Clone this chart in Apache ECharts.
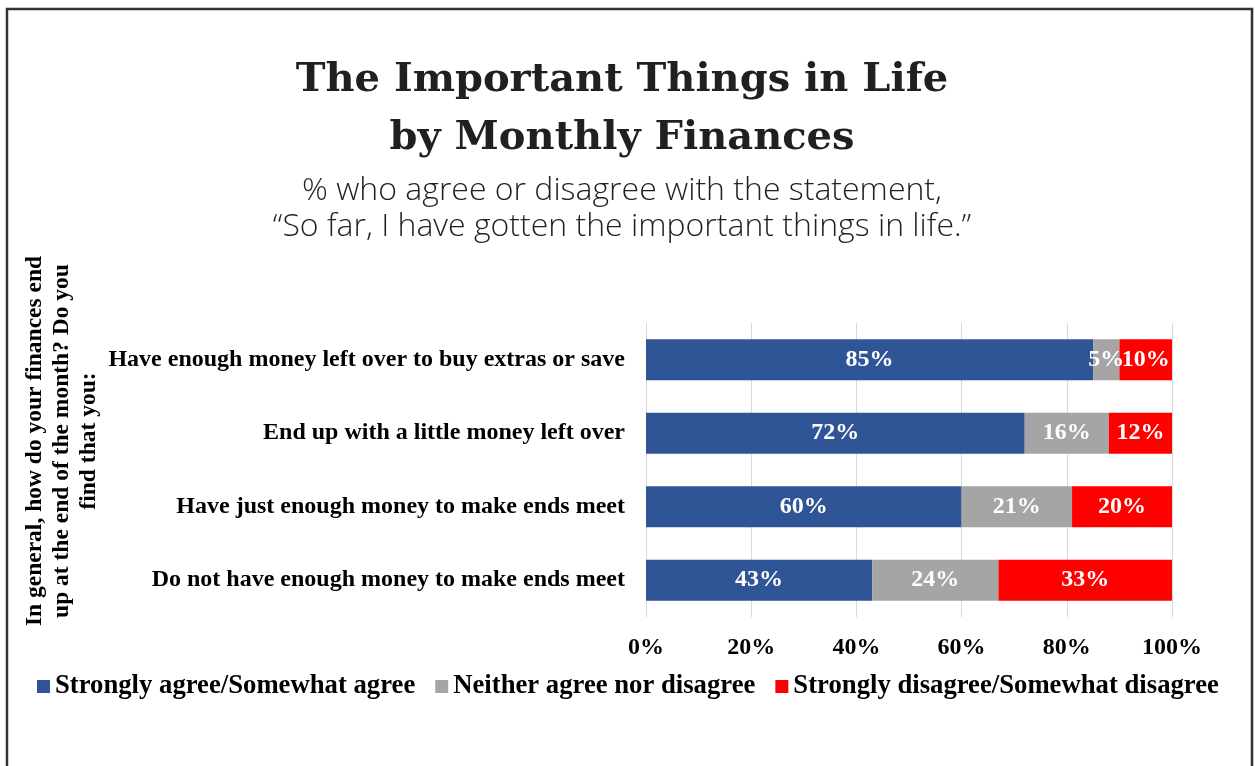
<!DOCTYPE html>
<html>
<head>
<meta charset="utf-8">
<style>
  html, body { margin: 0; padding: 0; background: #ffffff; }
  #chart { width: 1255px; height: 766px; }
</style>
<script src="https://cdn.jsdelivr.net/npm/echarts@6/dist/echarts.min.js"></script>
</head>
<body>
<div id="chart"></div>
<script>
// Survey groups (monthly finances), top to bottom
const categories = [
  'Have enough money left over to buy extras or save',
  'End up with a little money left over',
  'Have just enough money to make ends meet',
  'Do not have enough money to make ends meet'
];
// Share of each group, in percent
const agreeValues = [85, 72, 60, 43];
const neitherValues = [5, 16, 21, 24];
const disagreeValues = [10, 12, 20, 33];
const seriesNames = [
  'Strongly agree/Somewhat agree',
  'Neither agree nor disagree',
  'Strongly disagree/Somewhat disagree'
];
const xTicks = [0, 20, 40, 60, 80, 100];

const serif = '"Liberation Serif", "Times New Roman", serif';
const colors = ['#2F5597', '#A5A5A5', '#FF0000'];

const chart = echarts.init(document.getElementById('chart'), null, { renderer: 'canvas' });

function barSeries(name, values, color) {
  return {
    name: name,
    type: 'bar',
    stack: 'total',
    barWidth: '56%',
    data: values,
    itemStyle: { color: color },
    label: {
      show: true,
      position: 'inside',
      formatter: '{c}%',
      color: '#ffffff',
      fontFamily: serif,
      fontWeight: 'bold',
      fontSize: 24
    },
    emphasis: { disabled: true }
  };
}

function centeredText(text, y, font) {
  return {
    type: 'text',
    x: 622,
    y: y,
    silent: true,
    style: Object.assign({
      text: text,
      align: 'center',
      verticalAlign: 'middle',
      fill: '#231f20'
    }, font)
  };
}

const titleFont = { fontFamily: '"DejaVu Serif", serif', fontWeight: 'bold', fontSize: 40 };
const subFont = { fontFamily: '"Open Sans", Lato, sans-serif', fontWeight: 300, fontSize: 32 };

chart.setOption({
  animation: false,
  backgroundColor: '#ffffff',
  color: colors,
  legend: {
    data: seriesNames,
    left: 37,
    top: 673,
    padding: 0,
    icon: 'rect',
    itemWidth: 13,
    itemHeight: 13,
    itemGap: 20,
    textStyle: {
      fontFamily: serif,
      fontWeight: 'bold',
      fontSize: 26.7,
      color: '#000000'
    }
  },
  grid: {
    left: 646,
    right: 83,
    top: 323,
    bottom: 149,
    containLabel: false
  },
  xAxis: {
    type: 'value',
    min: 0,
    max: 100,
    interval: 20,
    axisLine: { show: false },
    axisTick: { show: false },
    splitLine: { lineStyle: { color: '#d9d9d9', width: 1 } },
    axisLabel: {
      margin: 19,
      formatter: function (v) { return xTicks.indexOf(v) >= 0 ? v + '%' : ''; },
      fontFamily: serif,
      fontWeight: 'bold',
      fontSize: 24,
      color: '#000000'
    }
  },
  yAxis: {
    type: 'category',
    inverse: true,
    data: categories,
    axisLine: { show: false },
    axisTick: { show: false },
    axisLabel: {
      margin: 21,
      fontFamily: serif,
      fontWeight: 'bold',
      fontSize: 24,
      color: '#000000'
    }
  },
  graphic: [
    {
      type: 'rect',
      shape: { x: 7, y: 9, width: 1245, height: 800 },
      style: { fill: 'none', stroke: '#333333', lineWidth: 2.5 },
      silent: true,
      z: 100
    },
    centeredText('The Important Things in Life', 81, titleFont),
    centeredText('by Monthly Finances', 139, titleFont),
    centeredText('% who agree or disagree with the statement,', 191, subFont),
    centeredText('\u201cSo far, I have gotten the important things in life.\u201d', 227, subFont),
    {
      type: 'text',
      x: 62,
      y: 441,
      rotation: Math.PI / 2,
      silent: true,
      style: {
        text: 'In general, how do your finances end\nup at the end of the month? Do you\nfind that you:',
        align: 'center',
        verticalAlign: 'middle',
        fontFamily: serif,
        fontWeight: 'bold',
        fontSize: 23.5,
        lineHeight: 27,
        fill: '#000000'
      }
    }
  ],
  series: [
    barSeries(seriesNames[0], agreeValues, colors[0]),
    barSeries(seriesNames[1], neitherValues, colors[1]),
    barSeries(seriesNames[2], disagreeValues, colors[2])
  ]
});
</script>
</body>
</html>
